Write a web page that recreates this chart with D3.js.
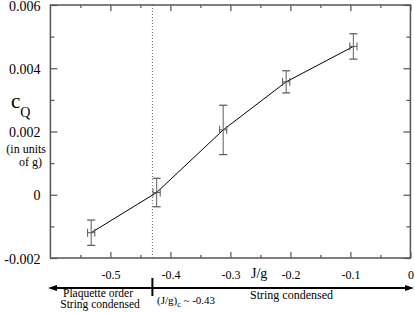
<!DOCTYPE html>
<html>
<head>
<meta charset="utf-8">
<script src="https://cdn.jsdelivr.net/npm/d3@7"></script>
<style>
  html, body { margin: 0; padding: 0; background: #fff; }
</style>
</head>
<body>
<svg id="chart" width="415" height="313" font-family="Liberation Serif"></svg>
<script>
// data
const jg = [-0.532, -0.423, -0.312, -0.207, -0.095];
const cq = [-0.0012, 0.00007, 0.00205, 0.00357, 0.00469];
const cqErr = [0.0004, 0.00045, 0.00078, 0.00035, 0.0004];
const jgErr = [0.006, 0.006, 0.006, 0.006, 0.006];
const xTicks = [-0.5, -0.4, -0.3, -0.2, -0.1, 0];
const xMinor = [-0.55, -0.45, -0.35, -0.25, -0.15, -0.05];
const yTicks = [-0.002, 0, 0.002, 0.004, 0.006];
const yMinor = [-0.001, 0.001, 0.003, 0.005];
const criticalJg = -0.43;

const svg = d3.select("#chart");
const x = d3.scaleLinear().domain([-0.6, 0]).range([50.4, 410.4]);
const y = d3.scaleLinear().domain([-0.002, 0.006]).range([258, 5]);

const axisColor = "#555";

// frame
svg.append("rect")
  .attr("x", x(-0.6)).attr("y", y(0.006))
  .attr("width", x(0) - x(-0.6)).attr("height", y(-0.002) - y(0.006))
  .attr("fill", "none").attr("stroke", axisColor).attr("stroke-width", 1.5);

function fmtY(d) {
  if (d === 0) return "0";
  return d3.format(".3f")(d).replace("−", "-");
}

// axes on all four sides, ticks inward
const axBottom = svg.append("g").attr("transform", `translate(0,${y(-0.002)})`);
axBottom.call(d3.axisBottom(x).tickValues(xTicks).tickSize(-6).tickPadding(12)
  .tickFormat(d => d === 0 ? "0" : d3.format(".1f")(d).replace("−", "-")));
axBottom.append("g").call(d3.axisBottom(x).tickValues(xMinor).tickSize(-3).tickFormat(""));

const axTop = svg.append("g").attr("transform", `translate(0,${y(0.006)})`);
axTop.call(d3.axisTop(x).tickValues(xTicks).tickSize(-6).tickFormat(""));
axTop.append("g").call(d3.axisTop(x).tickValues(xMinor).tickSize(-3).tickFormat(""));

const axLeft = svg.append("g").attr("transform", `translate(${x(-0.6)},0)`);
axLeft.call(d3.axisLeft(y).tickValues(yTicks).tickSize(-7).tickPadding(10).tickFormat(fmtY));
axLeft.append("g").call(d3.axisLeft(y).tickValues(yMinor).tickSize(-4).tickFormat(""));

const axRight = svg.append("g").attr("transform", `translate(${x(0)},0)`);
axRight.call(d3.axisRight(y).tickValues(yTicks).tickSize(-7).tickFormat(""));
axRight.append("g").call(d3.axisRight(y).tickValues(yMinor).tickSize(-4).tickFormat(""));

svg.selectAll(".domain").remove();
svg.selectAll(".tick line").attr("stroke", axisColor).attr("stroke-width", 1.2);
axBottom.selectAll(".tick text").attr("font-size", 12).attr("fill", "#000");
axLeft.selectAll(".tick text").attr("font-size", 14).attr("fill", "#000").attr("dy", "0.36em");

// dotted line at critical coupling
svg.append("line")
  .attr("x1", x(criticalJg)).attr("x2", x(criticalJg))
  .attr("y1", y(0.006)).attr("y2", y(-0.002))
  .attr("stroke", "#444").attr("stroke-width", 0.8)
  .attr("stroke-dasharray", "1,2");

const pts = jg.map((v, i) => ({ x: v, y: cq[i], ey: cqErr[i], ex: jgErr[i] }));

// connecting line
svg.append("path").datum(pts)
  .attr("fill", "none").attr("stroke", "#000").attr("stroke-width", 1)
  .attr("d", d3.line().x(d => x(d.x)).y(d => y(d.y)));

// error bars
const eb = svg.append("g").selectAll("g").data(pts).join("g");
eb.append("line")
  .attr("x1", d => x(d.x)).attr("x2", d => x(d.x))
  .attr("y1", d => y(d.y + d.ey)).attr("y2", d => y(d.y - d.ey))
  .attr("stroke", "#777").attr("stroke-width", 1.2);
eb.append("line")
  .attr("x1", d => x(d.x) - 4).attr("x2", d => x(d.x) + 4)
  .attr("y1", d => y(d.y + d.ey)).attr("y2", d => y(d.y + d.ey))
  .attr("stroke", "#555").attr("stroke-width", 1.2);
eb.append("line")
  .attr("x1", d => x(d.x) - 4).attr("x2", d => x(d.x) + 4)
  .attr("y1", d => y(d.y - d.ey)).attr("y2", d => y(d.y - d.ey))
  .attr("stroke", "#555").attr("stroke-width", 1.2);
eb.append("line")
  .attr("x1", d => x(d.x - d.ex)).attr("x2", d => x(d.x + d.ex))
  .attr("y1", d => y(d.y)).attr("y2", d => y(d.y))
  .attr("stroke", "#555").attr("stroke-width", 1);
eb.append("line")
  .attr("x1", d => x(d.x - d.ex)).attr("x2", d => x(d.x - d.ex))
  .attr("y1", d => y(d.y) - 4).attr("y2", d => y(d.y) + 4)
  .attr("stroke", "#555").attr("stroke-width", 1);
eb.append("line")
  .attr("x1", d => x(d.x + d.ex)).attr("x2", d => x(d.x + d.ex))
  .attr("y1", d => y(d.y) - 4).attr("y2", d => y(d.y) + 4)
  .attr("stroke", "#555").attr("stroke-width", 1);

// axis titles
svg.append("text").attr("x", x(-0.252)).attr("y", 278)
  .attr("text-anchor", "middle").attr("font-size", 14).text("J/g");

const yt = svg.append("text").attr("x", 11).attr("y", 108);
yt.append("tspan").attr("font-size", 21).text("c");
yt.append("tspan").attr("font-size", 14).attr("dy", 9).text("Q");
svg.append("text").attr("x", 46).attr("y", 153).attr("text-anchor", "end")
  .attr("font-size", 12).text("(in units");
svg.append("text").attr("x", 42).attr("y", 166).attr("text-anchor", "end")
  .attr("font-size", 12).text("of g)");

// phase arrow below the axis
const arrowY = 288;
svg.append("line")
  .attr("x1", 54).attr("x2", 409).attr("y1", arrowY).attr("y2", arrowY)
  .attr("stroke", "#000").attr("stroke-width", 2);
svg.append("path")
  .attr("d", `M48,${arrowY} L57,${arrowY - 3} L57,${arrowY + 3} Z`).attr("fill", "#000");
svg.append("path")
  .attr("d", `M414,${arrowY} L405,${arrowY - 3} L405,${arrowY + 3} Z`).attr("fill", "#000");
svg.append("line")
  .attr("x1", x(criticalJg)).attr("x2", x(criticalJg))
  .attr("y1", 278).attr("y2", 296)
  .attr("stroke", "#000").attr("stroke-width", 2);

svg.append("text").attr("x", 98).attr("y", 297).attr("text-anchor", "middle")
  .attr("font-size", 11.5).text("Plaquette order");
svg.append("text").attr("x", 100).attr("y", 308).attr("text-anchor", "middle")
  .attr("font-size", 11.5).text("String condensed");
const crit = svg.append("text").attr("x", 157).attr("y", 304).attr("font-size", 11);
crit.append("tspan").text("(J/g)");
crit.append("tspan").attr("font-size", 8).attr("dy", 3).text("c");
crit.append("tspan").attr("dy", -3).text(" ~ -0.43");
svg.append("text").attr("x", 250).attr("y", 299)
  .attr("font-size", 12).text("String condensed");

// serif everywhere (d3 axes set sans-serif on their groups)
svg.selectAll("g").attr("font-family", null);
svg.selectAll("text").attr("font-family", "Liberation Serif");
</script>
</body>
</html>
